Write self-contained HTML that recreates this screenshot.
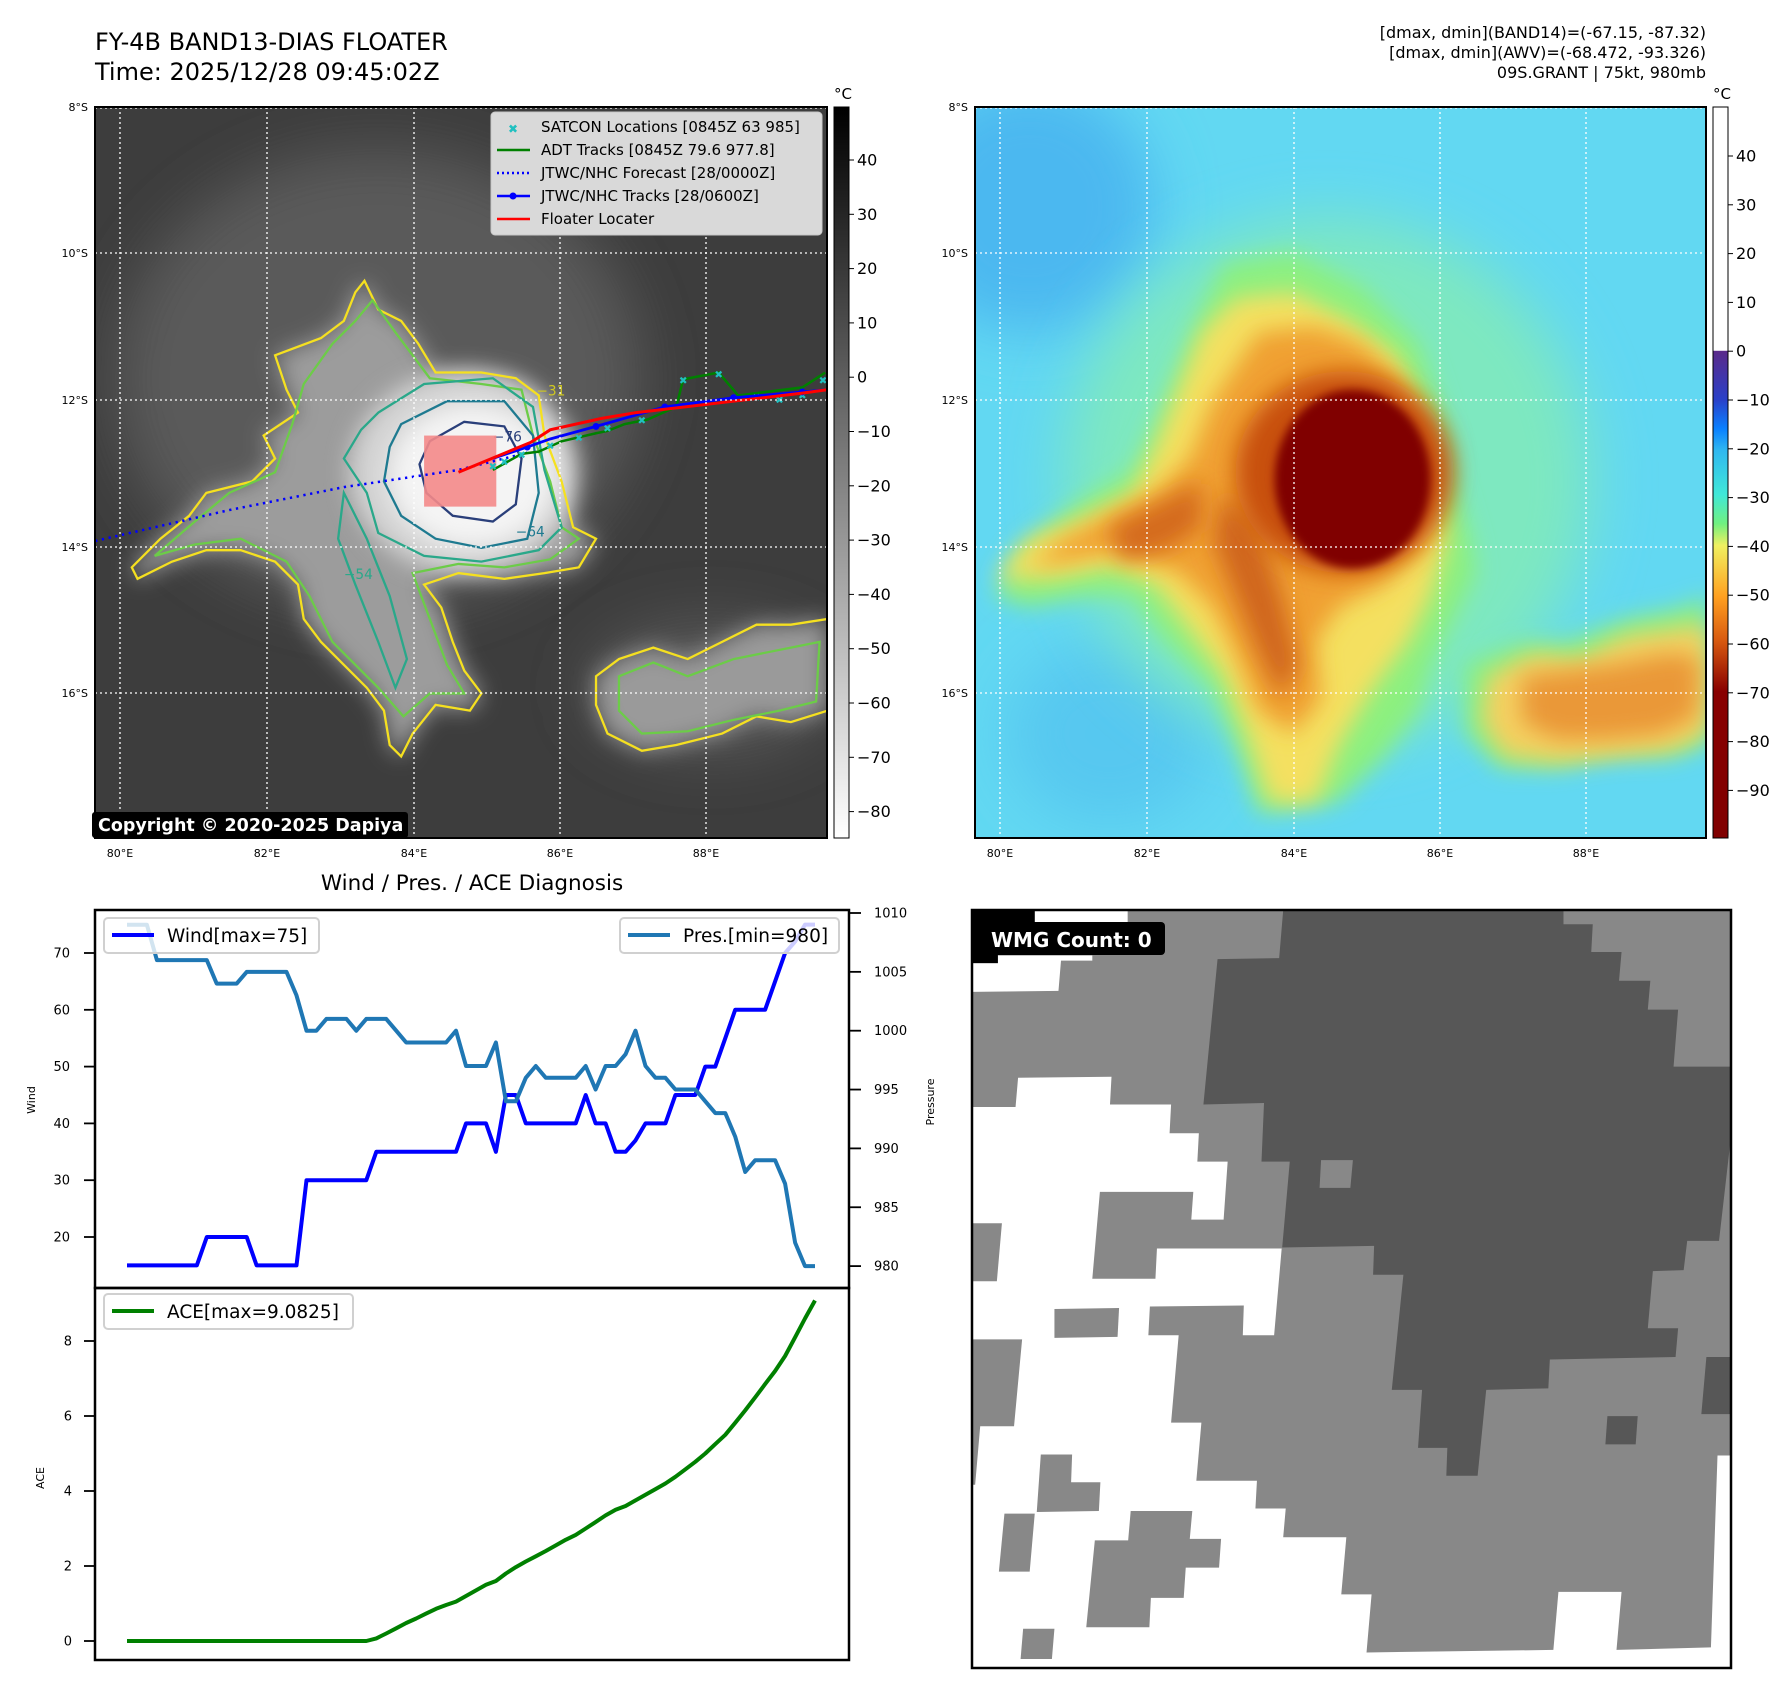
<!DOCTYPE html>
<html><head><meta charset="utf-8"><style>
html,body{margin:0;padding:0;background:#fff;}
svg{display:block;}
text{font-family:"DejaVu Sans","Liberation Sans",sans-serif;}
</style></head><body>
<svg id="root" width="1788" height="1695" viewBox="0 0 1788 1695" xmlns="http://www.w3.org/2000/svg">
<defs>
<filter id="b4" x="-30%" y="-30%" width="160%" height="160%"><feGaussianBlur stdDeviation="4"/></filter>
<filter id="b10" x="-50%" y="-50%" width="200%" height="200%"><feGaussianBlur stdDeviation="10"/></filter>
<filter id="b25" x="-50%" y="-50%" width="200%" height="200%"><feGaussianBlur stdDeviation="25"/></filter>
<clipPath id="c1"><rect x="95" y="107" width="732" height="731"/></clipPath>
<clipPath id="c2"><rect x="975" y="107" width="731" height="731"/></clipPath>
<clipPath id="c3"><rect x="972" y="910" width="759" height="758"/></clipPath>
<linearGradient id="g1" x1="0" y1="0" x2="0" y2="1"><stop offset="0" stop-color="#000"/><stop offset="1" stop-color="#fff"/></linearGradient>
<linearGradient id="g2" gradientUnits="userSpaceOnUse" x1="0" y1="107" x2="0" y2="838">
<stop offset="0" stop-color="#fff"/><stop offset="0.333" stop-color="#fff"/>
<stop offset="0.334" stop-color="#5a2a8a"/><stop offset="0.40" stop-color="#2a40c8"/>
<stop offset="0.44" stop-color="#0a80ff"/><stop offset="0.47" stop-color="#30b8f0"/>
<stop offset="0.53" stop-color="#40e8d8"/><stop offset="0.57" stop-color="#70f080"/>
<stop offset="0.60" stop-color="#f0f060"/><stop offset="0.67" stop-color="#ffa020"/>
<stop offset="0.73" stop-color="#d85a10"/><stop offset="0.80" stop-color="#880000"/>
<stop offset="1" stop-color="#800000"/></linearGradient>
</defs>

<!-- Titles -->
<text x="95" y="50" font-size="24">FY-4B BAND13-DIAS FLOATER</text>
<text x="95" y="80" font-size="24">Time: 2025/12/28 09:45:02Z</text>
<g font-size="16" text-anchor="end">
<text x="1706" y="38">[dmax, dmin](BAND14)=(-67.15, -87.32)</text>
<text x="1706" y="58">[dmax, dmin](AWV)=(-68.472, -93.326)</text>
<text x="1706" y="78">09S.GRANT | 75kt, 980mb</text>
</g>

<!-- MAP 1 -->
<g clip-path="url(#c1)">
<rect x="95" y="107" width="732" height="731" fill="#3d3d3d"/>
<g transform="scale(1.1462)">
<ellipse cx="330" cy="330" rx="230" ry="200" fill="#5a5a5a" filter="url(#b25)"/>
<ellipse cx="620" cy="600" rx="110" ry="60" fill="#555" filter="url(#b25)"/>
<polygon fill="#9c9c9c" filter="url(#b10)" points="318,245 330,270 350,280 365,300 380,325 420,325 450,330 470,345 475,380 490,420 500,460 520,470 505,495 475,500 440,505 400,500 370,510 385,530 395,560 405,585 420,605 410,620 380,615 360,640 350,660 340,650 335,620 320,600 300,580 280,560 265,540 260,510 240,490 210,480 180,480 150,490 120,505 115,495 140,470 165,450 180,430 220,420 240,400 230,380 260,360 250,340 240,310 280,295 300,280 310,255"/>
<polygon fill="#9a9a9a" filter="url(#b10)" points="520,590 540,575 570,565 600,575 630,560 660,545 690,545 722,540 722,620 690,630 660,625 630,640 590,650 560,655 530,640 520,615"/>
<ellipse cx="405" cy="412" rx="100" ry="88" fill="#d4d4d4" filter="url(#b10)"/>
<ellipse cx="412" cy="415" rx="72" ry="62" fill="#f4f4f4" filter="url(#b10)"/>
<g fill="none" stroke-width="2">
<polygon stroke="#f5e020" points="318,245 330,270 350,280 365,300 380,325 420,325 450,330 470,345 475,380 490,420 500,460 520,470 505,495 475,500 440,505 400,500 370,510 385,530 395,560 405,585 420,605 410,620 380,615 360,640 350,660 340,650 335,620 320,600 300,580 280,560 265,540 260,510 240,490 210,480 180,480 150,490 120,505 115,495 140,470 165,450 180,430 220,420 240,400 230,380 260,360 250,340 240,310 280,295 300,280 310,255"/>
<polygon stroke="#f5e020" points="520,590 540,575 570,565 600,575 630,560 660,545 690,545 722,540 722,620 690,630 660,625 630,640 590,650 560,655 530,640 520,615"/>
<polygon stroke="#6ccc48" points="325,262 345,290 375,330 420,335 455,340 465,380 480,420 490,460 505,470 480,488 440,495 400,492 360,500 375,540 390,580 405,605 375,605 352,625 330,600 290,560 270,520 250,490 210,470 170,475 135,485 170,455 200,430 240,412 255,370 265,335 290,300 310,280"/>
<polygon stroke="#6ccc48" points="540,590 570,578 600,590 640,575 690,565 715,560 712,612 680,620 640,628 600,638 560,640 540,620"/>
<polygon stroke="#2aa88a" points="330,360 370,335 430,330 465,355 475,410 490,460 470,480 420,490 370,485 330,465 320,430 300,400 315,375"/>
<path stroke="#2aa88a" d="M300,430 L320,470 L340,520 L355,575 L345,600 L330,560 L310,510 L295,470 Z"/>
<polygon stroke="#1e7a90" points="350,370 390,350 440,350 465,380 470,430 460,470 420,478 380,470 350,450 335,420 340,390"/>
<polygon stroke="#2a3f7a" points="375,385 405,368 440,372 455,400 450,440 430,455 395,450 372,430 366,405"/>
</g>
<g font-size="12" fill="#2aa88a"><text x="468" y="345" fill="#d0c820">−31</text><text x="430" y="385" fill="#2a3f7a">−76</text><text x="450" y="468" fill="#1e7a90">−64</text><text x="300" y="505">−54</text></g>
<rect x="370" y="380" width="63" height="62" fill="#f48a8a" opacity="0.9"/>
<polyline fill="none" stroke="#0000ff" stroke-width="2.2" stroke-dasharray="2,4" points="83,472 200,445 300,425 400,410 460,395"/>
<polyline fill="none" stroke="#008000" stroke-width="2.2" points="430,410 455,396 470,394 490,385 520,378 530,376 545,370 565,366 590,355 596,331 627,325 644,345 700,338 720,325"/>
<g fill="#20c0c0" font-size="9" text-anchor="middle"><text x="430" y="410">✖</text><text x="440" y="406">✖</text><text x="455" y="400">✖</text><text x="480" y="392">✖</text><text x="505" y="385">✖</text><text x="530" y="377">✖</text><text x="560" y="370">✖</text><text x="596" y="335">✖</text><text x="627" y="330">✖</text><text x="660" y="350">✖</text><text x="680" y="352">✖</text><text x="700" y="348">✖</text><text x="718" y="335">✖</text></g>
<polyline fill="none" stroke="#0000ff" stroke-width="2.4" points="430,400 460,390 480,383 520,372 580,355 640,347 700,342 722,340"/>
<g fill="#0000ff"><circle cx="460" cy="390" r="3"/><circle cx="520" cy="372" r="3"/><circle cx="580" cy="355" r="3"/><circle cx="640" cy="347" r="3"/><circle cx="700" cy="342" r="3"/></g>
<polyline fill="none" stroke="#ff0000" stroke-width="2.6" points="400,412 463,386 480,375 525,365 555,360 640,350 700,343 722,340"/>
</g>
<g stroke="#fff" stroke-width="1.3" stroke-dasharray="2,3">
<line x1="120" y1="107" x2="120" y2="838"/><line x1="267" y1="107" x2="267" y2="838"/><line x1="414" y1="107" x2="414" y2="838"/><line x1="560" y1="107" x2="560" y2="838"/><line x1="706" y1="107" x2="706" y2="838"/>
<line x1="95" y1="108" x2="827" y2="108"/><line x1="95" y1="253" x2="827" y2="253"/><line x1="95" y1="400" x2="827" y2="400"/><line x1="95" y1="547" x2="827" y2="547"/><line x1="95" y1="693" x2="827" y2="693"/>
</g>
</g>
<rect x="95" y="107" width="732" height="731" fill="none" stroke="#000" stroke-width="2"/>
<g><rect x="92" y="812" width="316" height="26" rx="3" fill="#000"/><text x="98" y="831" font-size="17.5" font-weight="bold" fill="#fff">Copyright © 2020-2025 Dapiya</text></g>
<g>
<rect x="491" y="112" width="331" height="123" rx="4" fill="#d9d9d9" stroke="#c8c8c8"/>
<g font-size="15" fill="#000"><text x="541" y="132">SATCON Locations [0845Z 63 985]</text><text x="541" y="155">ADT Tracks [0845Z 79.6 977.8]</text><text x="541" y="178">JTWC/NHC Forecast [28/0000Z]</text><text x="541" y="201">JTWC/NHC Tracks [28/0600Z]</text><text x="541" y="224">Floater Locater</text></g>
<text x="513" y="133" font-size="12" fill="#20c0c0" text-anchor="middle">✖</text>
<line x1="497" y1="150" x2="530" y2="150" stroke="#008000" stroke-width="2.5"/>
<line x1="497" y1="173" x2="530" y2="173" stroke="#0000ff" stroke-width="2.5" stroke-dasharray="2,3"/>
<line x1="497" y1="196" x2="530" y2="196" stroke="#0000ff" stroke-width="2.5"/><circle cx="513" cy="196" r="3.5" fill="#0000ff"/>
<line x1="497" y1="219" x2="530" y2="219" stroke="#ff0000" stroke-width="2.5"/>
</g>
<g font-size="11" fill="#000" text-anchor="end">
<text x="88" y="111">8°S</text><text x="88" y="257">10°S</text><text x="88" y="404">12°S</text><text x="88" y="551">14°S</text><text x="88" y="697">16°S</text></g>
<g font-size="11" fill="#000" text-anchor="middle">
<text x="120" y="857">80°E</text><text x="267" y="857">82°E</text><text x="414" y="857">84°E</text><text x="560" y="857">86°E</text><text x="706" y="857">88°E</text></g>

<!-- colorbar 1 -->
<rect x="834" y="107" width="15" height="731" fill="url(#g1)" stroke="#000" stroke-width="1"/>
<text x="843" y="99" font-size="15" text-anchor="middle">°C</text>
<g id="cb1" font-size="16"></g>

<!-- MAP 2 -->
<g clip-path="url(#c2)">
<rect x="975" y="107" width="731" height="731" fill="#62d8f2"/>
<g transform="scale(1.1462) translate(768,0)">
<ellipse cx="130" cy="180" rx="110" ry="110" fill="#4cb8f0" filter="url(#b25)"/>
<ellipse cx="200" cy="640" rx="90" ry="80" fill="#56c8f0" filter="url(#b25)"/>
<ellipse cx="390" cy="420" rx="230" ry="230" fill="#7ee8c0" filter="url(#b25)"/>
<polygon fill="#8cf080" filter="url(#b10)" points="300,230 360,220 420,250 470,300 490,360 500,420 515,470 520,500 500,540 480,580 470,620 440,660 400,700 330,710 310,650 290,600 250,560 220,520 180,520 130,530 100,520 120,480 170,440 220,410 240,370 260,320 280,270"/>
<polygon fill="#8cf080" filter="url(#b10)" points="510,580 560,560 600,560 650,540 700,530 722,520 722,650 690,660 640,660 590,670 540,670 510,640"/>
<polygon fill="#f4e060" filter="url(#b10)" points="310,260 360,255 410,280 450,310 475,360 485,420 495,470 480,520 460,560 430,600 400,650 380,700 340,700 320,640 300,590 270,550 240,510 200,495 150,505 100,505 130,470 170,455 220,430 240,390 260,340 280,290"/>
<polygon fill="#f4d060" filter="url(#b10)" points="530,590 570,570 610,575 650,555 700,548 722,545 722,640 690,655 640,660 590,665 545,660 525,630"/>
<polygon fill="#f0a030" filter="url(#b10)" points="330,290 380,285 420,300 450,330 470,380 475,430 470,480 440,510 400,530 380,560 385,610 360,640 330,620 310,570 290,530 260,500 210,480 160,490 130,495 160,470 200,450 240,430 270,400 290,350 310,320"/>
<polygon fill="#ea9838" filter="url(#b10)" points="560,590 600,585 640,580 690,570 715,575 712,625 680,640 630,645 590,645 560,630"/>
<polygon fill="#d0661a" filter="url(#b10)" points="300,430 330,460 350,520 365,580 350,610 330,570 310,520 290,470"/>
<polygon fill="#d46a1c" filter="url(#b10)" points="200,460 240,440 280,420 280,460 250,480 210,490"/>
<ellipse cx="405" cy="412" rx="95" ry="88" fill="#c85010" filter="url(#b10)"/>
<ellipse cx="412" cy="418" rx="68" ry="78" fill="#800000" filter="url(#b4)"/>
</g>
<g stroke="#fff" stroke-width="1.3" stroke-dasharray="2,3">
<line x1="1000" y1="107" x2="1000" y2="838"/><line x1="1147" y1="107" x2="1147" y2="838"/><line x1="1294" y1="107" x2="1294" y2="838"/><line x1="1440" y1="107" x2="1440" y2="838"/><line x1="1586" y1="107" x2="1586" y2="838"/>
<line x1="975" y1="108" x2="1706" y2="108"/><line x1="975" y1="253" x2="1706" y2="253"/><line x1="975" y1="400" x2="1706" y2="400"/><line x1="975" y1="547" x2="1706" y2="547"/><line x1="975" y1="693" x2="1706" y2="693"/>
</g>
</g>
<rect x="975" y="107" width="731" height="731" fill="none" stroke="#000" stroke-width="2"/>
<g font-size="11" fill="#000" text-anchor="end">
<text x="968" y="111">8°S</text><text x="968" y="257">10°S</text><text x="968" y="404">12°S</text><text x="968" y="551">14°S</text><text x="968" y="697">16°S</text></g>
<g font-size="11" fill="#000" text-anchor="middle">
<text x="1000" y="857">80°E</text><text x="1147" y="857">82°E</text><text x="1294" y="857">84°E</text><text x="1440" y="857">86°E</text><text x="1586" y="857">88°E</text></g>
<rect x="1713" y="107" width="15" height="731" fill="url(#g2)" stroke="#000" stroke-width="1"/>
<text x="1722" y="99" font-size="15" text-anchor="middle">°C</text>
<g id="cb2" font-size="16"></g>

<!-- Diagnosis charts -->
<text x="472" y="890" font-size="21.5" text-anchor="middle">Wind / Pres. / ACE Diagnosis</text>
<g id="charts"></g>

<!-- WMG panel -->
<g clip-path="url(#c3)">
<rect x="972" y="910" width="759" height="758" fill="#888"/>
<g transform="translate(960,900) scale(0.505)">
<polygon fill="#fff" points="20,410 110,410 115,352 300,350 297,405 418,405 415,462 473,462 470,518 530,518 522,633 458,633 462,578 277,578 262,750 387,750 390,690 637,690 622,862 560,862 562,803 376,805 373,862 433,862 418,1035 478,1035 468,1150 588,1150 585,1205 645,1205 640,1262 765,1262 755,1375 815,1375 805,1490 1175,1485 1185,1370 1310,1370 1300,1485 1487,1480 1500,1100 1535,1100 1535,1530 20,1530"/>
<polygon fill="#fff" points="20,125 75,125 75,110 262,110 262,120 200,120 195,180 20,182"/>
<polygon fill="#fff" points="148,18 332,18 332,45 148,45"/>
<g fill="#888">
<polygon points="20,640 83,640 73,755 20,755"/><polygon points="20,870 123,870 107,1042 40,1042 30,1158 20,1158"/>
<polygon points="187,810 315,808 312,865 187,867"/>
<polygon points="160,1098 222,1098 220,1153 278,1153 275,1210 152,1212"/>
<polygon points="88,1215 148,1215 138,1330 77,1330"/>
<polygon points="338,1210 460,1210 455,1265 517,1265 513,1322 447,1322 443,1382 378,1382 375,1440 250,1440 267,1268 333,1268"/>
<polygon points="125,1443 187,1443 182,1503 120,1503"/>
</g>
<g fill="#575757">
<polygon points="640,20 1195,20 1195,48 1253,48 1250,103 1310,103 1305,160 1367,160 1362,217 1422,217 1413,330 1530,330 1530,440 1503,675 1440,675 1433,733 1372,735 1362,848 1422,848 1417,905 1168,910 1165,967 1042,970 1025,1140 963,1140 965,1085 907,1085 915,970 855,970 878,742 818,742 820,685 638,688 653,518 597,518 602,402 482,405 510,117 632,115"/>
<polygon points="1478,905 1530,905 1530,1018 1468,1018"/>
<polygon points="1282,1022 1342,1022 1338,1078 1278,1078"/>
</g>
<polygon fill="#888" points="715,515 778,515 773,570 712,570"/>
<polygon fill="#000" points="20,15 148,15 148,45 75,45 75,125 20,125"/>
</g>
</g>
<rect x="972" y="910" width="759" height="758" fill="none" stroke="#000" stroke-width="2.5"/>
<g><rect x="980" y="922" width="185" height="33" rx="4" fill="#000"/><text x="991" y="947" font-size="20" font-weight="bold" fill="#fff">WMG Count: 0</text></g>
</svg>

<script>
// ---- chart data ----
var windValues = [15,15,15,15,15,15,15,15,20,20,20,20,20,15,15,15,15,15,30,30,30,30,30,30,30,35,35,35,35,35,35,35,35,35,40,40,40,35,45,45,40,40,40,40,40,40,45,40,40,35,35,37,40,40,40,45,45,45,50,50,55,60,60,60,60,65,70,72,75,75];
var presValues = [1009,1009,1009,1006,1006,1006,1006,1006,1006,1004,1004,1004,1005,1005,1005,1005,1005,1003,1000,1000,1001,1001,1001,1000,1001,1001,1001,1000,999,999,999,999,999,1000,997,997,997,999,994,994,996,997,996,996,996,996,997,995,997,997,998,1000,997,996,996,995,995,995,994,993,993,991,988,989,989,989,987,982,980,980];
var aceValues = [0,0,0,0,0,0,0,0,0,0,0,0,0,0,0,0,0,0,0,0,0,0,0,0,0,0.07,0.2,0.34,0.48,0.6,0.73,0.86,0.96,1.05,1.2,1.35,1.5,1.6,1.8,1.97,2.12,2.26,2.4,2.55,2.7,2.83,3.0,3.17,3.35,3.5,3.6,3.75,3.9,4.05,4.2,4.38,4.58,4.78,5.0,5.25,5.5,5.82,6.15,6.5,6.85,7.2,7.6,8.1,8.6,9.08];
var windTicks = [20,30,40,50,60,70];
var presTicks = [980,985,990,995,1000,1005,1010];
var aceTicks = [0,2,4,6,8];
var cb1Ticks = [40,30,20,10,0,-10,-20,-30,-40,-50,-60,-70,-80];
var cb2Ticks = [40,30,20,10,0,-10,-20,-30,-40,-50,-60,-70,-80,-90];

var NS = 'http://www.w3.org/2000/svg';
function xS(i){ return 127 + i * (815 - 127) / (windValues.length - 1); }
function yWind(v){ return 953 + (70 - v) * 5.68; }
function yPres(p){ return 913 + (1010 - p) * 11.77; }
function yAce(a){ return 1641 - a * 37.5; }
function yCb1(t){ return 160 + (40 - t) * 5.43; }
function yCb2(t){ return 156 + (40 - t) * 4.88; }
function mk(tag, attrs, parent){ var e = document.createElementNS(NS, tag); for (var k in attrs) e.setAttribute(k, attrs[k]); parent.appendChild(e); return e; }
function fmt(t){ return t < 0 ? '\u2212' + Math.abs(t) : String(t); }

var charts = document.getElementById('charts');

var wf = mk('rect', {x:95, y:910, width:754, height:378, fill:'none', stroke:'#000', 'stroke-width':2.5}, charts);


var af = mk('rect', {x:95, y:1288, width:754, height:372, fill:'none', stroke:'#000', 'stroke-width':2.5}, charts);



windTicks.forEach(function(t){
  var y = yWind(t);
  mk('line', {x1:84, y1:y, x2:95, y2:y, stroke:'#000', 'stroke-width':1.8}, charts);
  var tx = mk('text', {x:70, y:y+4.5, 'font-size':13, 'text-anchor':'end'}, charts);
  tx.textContent = t;
  
  
});
presTicks.forEach(function(t){
  var y = yPres(t);
  mk('line', {x1:849, y1:y, x2:861, y2:y, stroke:'#000', 'stroke-width':1.8}, charts);
  var tx = mk('text', {x:874, y:y+4.5, 'font-size':13}, charts);
  tx.textContent = t;
  
  
});
aceTicks.forEach(function(t){
  var y = yAce(t);
  mk('line', {x1:84, y1:y, x2:95, y2:y, stroke:'#000', 'stroke-width':1.8}, charts);
  var tx = mk('text', {x:72, y:y+4.5, 'font-size':13, 'text-anchor':'end'}, charts);
  tx.textContent = t;
  
  
});

var t1 = mk('text', {x:0, y:0, 'font-size':11, 'text-anchor':'middle', transform:'translate(35,1100) rotate(-90)'}, charts);
t1.textContent = 'Wind';


var t2 = mk('text', {x:0, y:0, 'font-size':11, 'text-anchor':'middle', transform:'translate(934,1102) rotate(-90)'}, charts);
t2.textContent = 'Pressure';


var t3 = mk('text', {x:0, y:0, 'font-size':11, 'text-anchor':'middle', transform:'translate(44,1478) rotate(-90)'}, charts);
t3.textContent = 'ACE';



function pts(arr, fy){ return arr.map(function(v, i){ return xS(i).toFixed(1) + ',' + fy(v).toFixed(1); }).join(' '); }
var wl = mk('polyline', {points:pts(windValues, yWind), fill:'none', stroke:'#0000ff', 'stroke-width':4, 'stroke-linejoin':'round'}, charts);


var pl = mk('polyline', {points:pts(presValues, yPres), fill:'none', stroke:'#1f77b4', 'stroke-width':4, 'stroke-linejoin':'round'}, charts);


var al = mk('polyline', {points:pts(aceValues, yAce), fill:'none', stroke:'#008000', 'stroke-width':4, 'stroke-linejoin':'round'}, charts);



function legend(x, y, w, color, label, name){
  var g = mk('g', {}, charts);
  
  
  mk('rect', {x:x, y:y, width:w, height:35, rx:4, fill:'#fff', 'fill-opacity':0.8, stroke:'#d0d0d0', 'stroke-width':2}, g);
  mk('line', {x1:x+8, y1:y+17, x2:x+50, y2:y+17, stroke:color, 'stroke-width':4}, g);
  var t = mk('text', {x:x+63, y:y+24, 'font-size':18.5}, g);
  t.textContent = label;
}
legend(104, 918, 215, '#0000ff', 'Wind[max=75]', 'wind-legend');
legend(620, 918, 219, '#1f77b4', 'Pres.[min=980]', 'pressure-legend');
legend(104, 1294, 249, '#008000', 'ACE[max=9.0825]', 'ace-legend');

var cb1 = document.getElementById('cb1');
cb1Ticks.forEach(function(t){
  var y = yCb1(t);
  mk('line', {x1:849, y1:y, x2:854, y2:y, stroke:'#000', 'stroke-width':1}, cb1);
  var tx = mk('text', {x:857, y:y+5.5}, cb1);
  tx.textContent = fmt(t);
  
  
});
var cb2 = document.getElementById('cb2');
cb2Ticks.forEach(function(t){
  var y = yCb2(t);
  mk('line', {x1:1728, y1:y, x2:1733, y2:y, stroke:'#000', 'stroke-width':1}, cb2);
  var tx = mk('text', {x:1736, y:y+5.5}, cb2);
  tx.textContent = fmt(t);
  
  
});
</script>
</body></html>
